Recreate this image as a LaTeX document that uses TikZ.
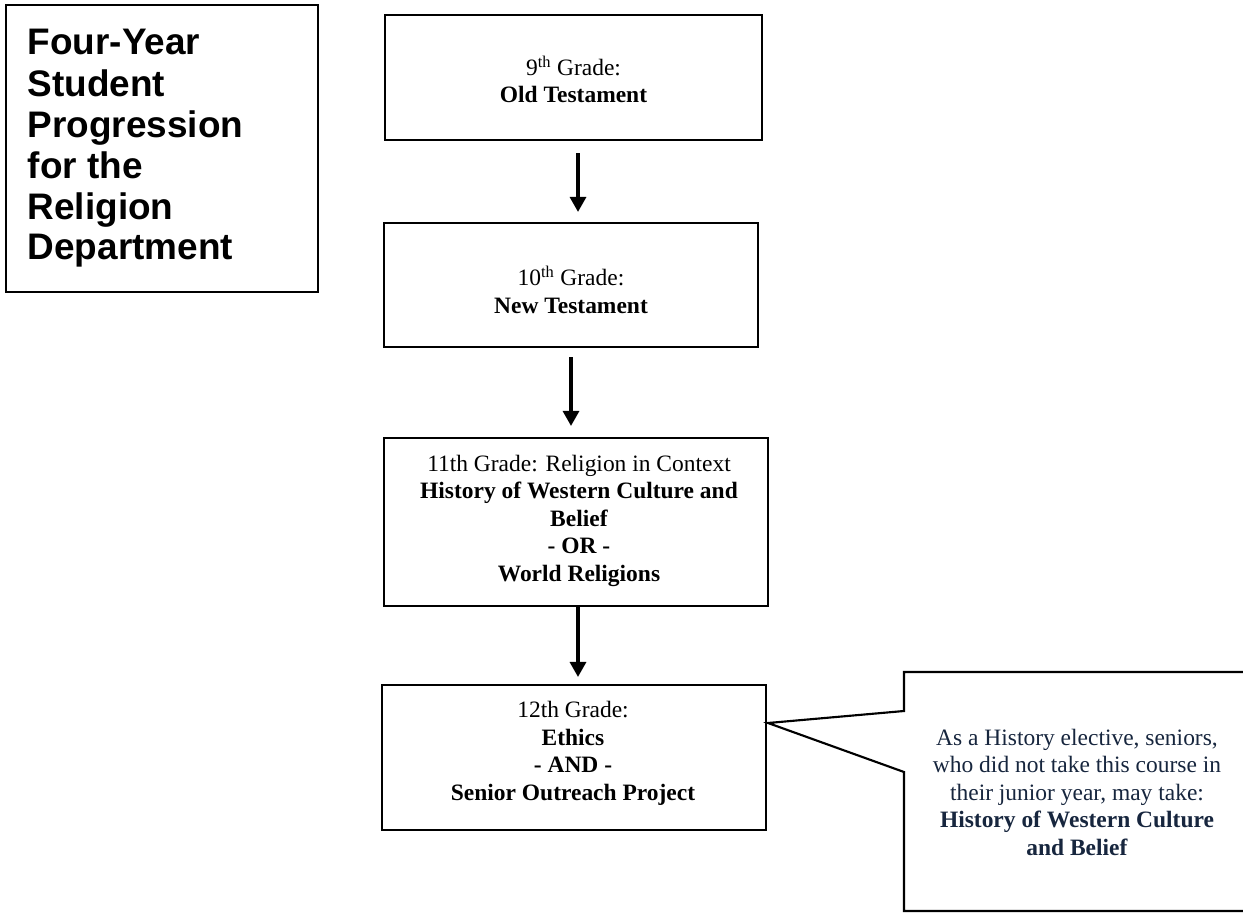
\documentclass[tikz,border=0pt]{standalone}
\usepackage{fontspec}
\setmainfont{Liberation Serif}
\newfontfamily\titlefont{Liberation Sans}
\usetikzlibrary{arrows.meta,calc}
\definecolor{navy}{RGB}{23,38,62}
\begin{document}
\begin{tikzpicture}[x=0.75pt,y=-0.75pt,
  box/.style={draw=black,line width=1.6pt,fill=white,inner sep=0pt,rectangle},
  txt/.style={inner sep=0pt,align=center,font=\fontsize{17.6pt}{20.6pt}\selectfont,anchor=base},
  flow/.style={line width=2.4pt,-{Triangle[length=11.25pt,width=12pt]}}]
\useasboundingbox (0,0) rectangle (1243,913);
% title
\node[box,minimum width=234pt,minimum height=215.25pt] (title) at (162,148.5) {};
\node[inner sep=0pt,anchor=base west,align=left,font=\titlefont\bfseries\fontsize{27.7pt}{30.75pt}\selectfont] (titletext) at (27.5,260)
 {Four-Year\\Student\\Progression\\for the\\Religion\\Department};
% boxes
\node[box,minimum width=282.75pt,minimum height=93.75pt] (b1) at (573.5,77.5) {};
\node[box,minimum width=280.5pt,minimum height=93pt] (b2) at (571,285) {};
\node[box,minimum width=288pt,minimum height=126pt] (b3) at (576,522) {};
\node[box,minimum width=288pt,minimum height=108.75pt] (b4) at (574,757.5) {};
\node[txt] (t1) at (573.5,103) {9\textsuperscript{th} Grade:\\\textbf{Old Testament}};
\node[txt] (t2) at (571,313) {10\textsuperscript{th} Grade:\\\textbf{New Testament}};
\node[txt] (t3) at (579,581) {11th Grade: Religion in Context\\\textbf{History of Western Culture and}\\\textbf{Belief}\\\textbf{- OR -}\\\textbf{World Religions}};
\node[txt] (t4) at (573,800) {12th Grade:\\\textbf{Ethics}\\\textbf{- AND -}\\\textbf{Senior Outreach Project}};
% arrows
\draw[flow] ($(b1.south)+(4.5,12)$) -- ($(b2.north)+(7,-10)$);
\draw[flow] ($(b2.south)+(0,9)$) -- ($(b3.north)+(-5,-11)$);
\draw[flow] ($(b3.south)+(2,0)$) -- ($(b4.north)+(4,-7)$);
% callout
\coordinate (ctip) at (768,723);
\draw[line width=1.6pt,fill=white,line join=miter]
  (904,672) -- (1262,672) -- (1262,911) -- (904,911) -- (904,772) -- (ctip) -- (904,711) -- cycle;
\node[txt,text=navy] (tc) at (1077,855) {As a History elective, seniors,\\who did not take this course in\\their junior year, may take:\\\textbf{History of Western Culture}\\\textbf{and Belief}};
\end{tikzpicture}
\end{document}
